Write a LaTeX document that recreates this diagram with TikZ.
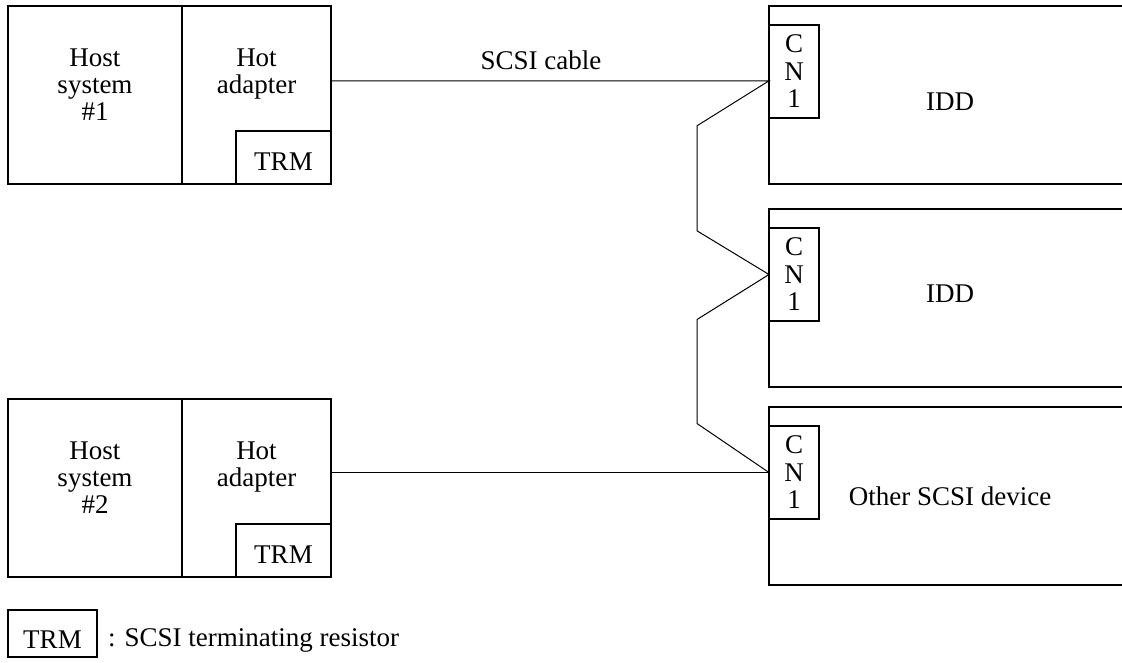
\documentclass[tikz,border=0pt]{standalone}
\usepackage{fontspec}
\setmainfont{Liberation Serif}
\usetikzlibrary{positioning,calc}

\begin{document}
\begin{tikzpicture}[
  x=1pt, y=-1pt,
  font=\fontsize{27}{27}\selectfont,
  box/.style={draw, line width=1.9pt, inner sep=0pt, outer sep=0pt, anchor=north west},
  host/.style={box, minimum width=174pt, minimum height=178pt},
  adapter/.style={box, minimum width=149pt, minimum height=178pt},
  trm/.style={draw, line width=1.4pt, inner sep=0pt, outer sep=0pt, text height=25pt, text depth=0pt, minimum width=95pt, minimum height=53pt},
  device/.style={box, minimum width=362pt, minimum height=178pt},
  conn/.style={draw, line width=1.4pt, inner sep=0pt, outer sep=0pt, align=center, font=\fontsize{27}{27.5}\selectfont, minimum width=50pt, minimum height=93pt, anchor=north west},
  cable/.style={line width=1pt},
  inside/.style={align=center, inner sep=0pt}
]
\useasboundingbox (0,0) rectangle (1122,662);

\node[host] (host1) at (8,6) {};
\node[adapter, right=0pt of host1] (ad1) {};
\node[trm, anchor=south east] (trm1) at (ad1.south east) {TRM};
\node[inside, anchor=north] (host1txt) at ($(host1.north)+(0,43)$) {Host\\system\\\#1};
\node[inside, anchor=north] (ad1txt) at ($(ad1.north)+(0,43)$) {Hot\\adapter};

\node[host] (host2) at (8,399) {};
\node[adapter, right=0pt of host2] (ad2) {};
\node[trm, anchor=south east] (trm2) at (ad2.south east) {TRM};
\node[inside, anchor=north] (host2txt) at ($(host2.north)+(0,43)$) {Host\\system\\\#2};
\node[inside, anchor=north] (ad2txt) at ($(ad2.north)+(0,43)$) {Hot\\adapter};

\node[device, text height=32pt] (dev1) at (769,6) {IDD};
\node[device, text height=10pt] (dev2) at (769,209) {IDD};
\node[device] (dev3) at (769,407) {Other SCSI device};
\node[conn] (cn1) at ($(dev1.north west)+(0,19)$) {C\\N\\1};
\node[conn] (cn2) at ($(dev2.north west)+(0,19)$) {C\\N\\1};
\node[conn] (cn3) at ($(dev3.north west)+(0,19)$) {C\\N\\1};

\coordinate (j1) at ($(cn1.north west)!0.6!(cn1.south west)$);
\coordinate (j2) at (cn2.west);
\coordinate (j3) at (cn3.west);

\draw[cable] (ad1.east |- j1) -- node[inside, above=11pt, xshift=-9pt] (cablelbl) {SCSI cable} (j1)
  -- ++(-72,45) -- ++(0,105) -- (j2) -- ++(-72,45) -- ++(0,104) -- (j3);
\draw[cable] (ad2.east |- j3) -- (j3);

\node[trm, line width=1.9pt, anchor=north west, text height=29pt, minimum width=89pt, minimum height=47pt] (legtrm) at (8,610) {TRM};
\node[inside, right=11pt of legtrm, yshift=-7pt] (legtxt) {: SCSI terminating resistor};
\end{tikzpicture}
\end{document}
